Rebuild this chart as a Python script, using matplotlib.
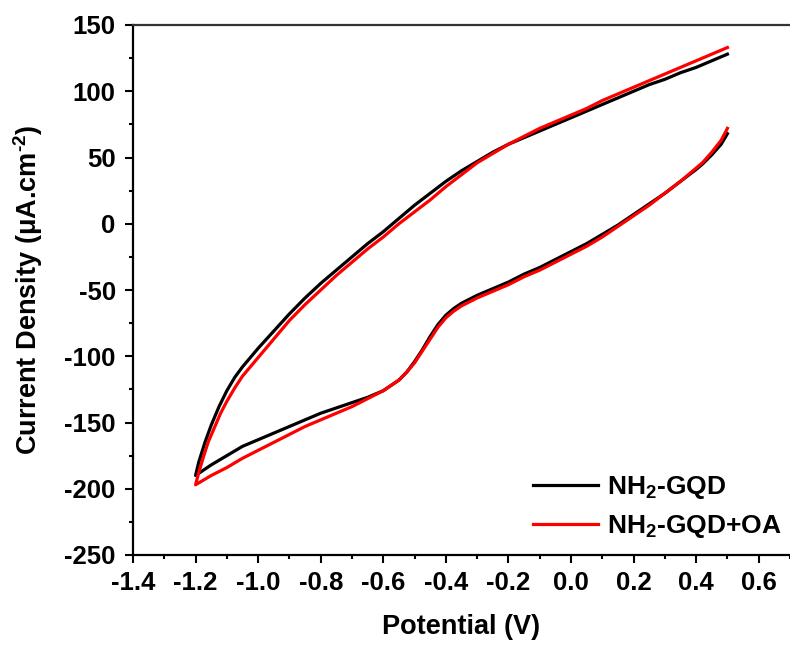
import matplotlib
matplotlib.use("Agg")
import matplotlib.pyplot as plt
from matplotlib.ticker import MultipleLocator

plt.rcParams['font.family'] = ['Liberation Sans', 'DejaVu Sans']
plt.rcParams['font.weight'] = 'bold'
plt.rcParams['mathtext.fontset'] = 'custom'
plt.rcParams['mathtext.rm'] = 'Liberation Sans:bold'
plt.rcParams['mathtext.bf'] = 'Liberation Sans:bold'
plt.rcParams['mathtext.it'] = 'Liberation Sans:bold:italic'
plt.rcParams['mathtext.default'] = 'bf'

# Cyclic voltammograms: forward (anodic) sweep and reverse sweep
v_fwd_black = [-1.20, -1.19, -1.17, -1.15, -1.125, -1.10, -1.075, -1.05, -1.025, -1.00,
               -0.95, -0.90, -0.85, -0.80, -0.75, -0.70, -0.65, -0.60, -0.55, -0.50,
               -0.45, -0.40, -0.35, -0.30, -0.25, -0.20, -0.15, -0.10, -0.05, 0.00,
               0.05, 0.10, 0.15, 0.20, 0.25, 0.30, 0.35, 0.40, 0.45, 0.50]
i_fwd_black = [-190, -180, -165, -152, -138, -126, -116, -108, -101, -94,
               -81, -68, -56, -45, -35, -25, -15, -6, 4, 14,
               23, 32, 40, 47, 54, 60, 65, 70, 75, 80,
               85, 90, 95, 100, 105, 109, 114, 118, 123, 128]

v_rev_black = [0.50, 0.48, 0.45, 0.42, 0.40, 0.35, 0.30, 0.25, 0.20, 0.15,
               0.10, 0.05, 0.00, -0.05, -0.10, -0.15, -0.20, -0.25, -0.30, -0.35,
               -0.375, -0.40, -0.425, -0.45, -0.475, -0.50, -0.525, -0.55, -0.575, -0.60,
               -0.65, -0.70, -0.75, -0.80, -0.85, -0.90, -0.95, -1.00, -1.05, -1.10,
               -1.15, -1.20]
i_rev_black = [68, 60, 52, 45, 41, 32, 23, 15, 7, -1,
               -8, -15, -21, -27, -33, -38, -44, -49, -54, -60,
               -64, -69, -76, -85, -95, -104, -112, -118, -122, -126,
               -131, -135, -139, -143, -148, -153, -158, -163, -168, -175,
               -182, -190]

v_fwd_red = [-1.20, -1.19, -1.175, -1.16, -1.14, -1.12, -1.10, -1.075, -1.05, -1.025,
             -1.00, -0.95, -0.90, -0.85, -0.80, -0.75, -0.70, -0.65, -0.60, -0.55,
             -0.50, -0.45, -0.40, -0.35, -0.30, -0.25, -0.20, -0.15, -0.10, -0.05,
             0.00, 0.05, 0.10, 0.15, 0.20, 0.25, 0.30, 0.35, 0.40, 0.45,
             0.50]
i_fwd_red = [-197, -188, -176, -165, -154, -143, -134, -124, -115, -108,
             -101, -87, -73, -61, -50, -39, -29, -19, -10, 0,
             9, 18, 28, 37, 46, 53, 60, 66, 72, 77,
             82, 87, 93, 98, 103, 108, 113, 118, 123, 128,
             133]

v_rev_red = [0.50, 0.48, 0.45, 0.42, 0.40, 0.35, 0.30, 0.25, 0.20, 0.15,
             0.10, 0.05, 0.00, -0.05, -0.10, -0.15, -0.20, -0.25, -0.30, -0.35,
             -0.375, -0.40, -0.425, -0.45, -0.475, -0.50, -0.525, -0.55, -0.575, -0.60,
             -0.65, -0.70, -0.75, -0.80, -0.85, -0.90, -0.95, -1.00, -1.05, -1.10,
             -1.15, -1.20]
i_rev_red = [72, 63, 54, 46, 42, 32, 23, 14, 6, -2,
             -10, -17, -23, -29, -35, -40, -46, -51, -56, -62,
             -66, -71, -78, -87, -96, -105, -112, -118, -122, -126,
             -132, -138, -143, -148, -153, -159, -165, -171, -177, -184,
             -190, -197]

labels = ['NH$_2$-GQD', 'NH$_2$-GQD+OA']
colors = ['#000000', '#ff0000']
x_ticks = [-1.4, -1.2, -1.0, -0.8, -0.6, -0.4, -0.2, 0.0, 0.2, 0.4, 0.6]
x_ticklabels = ['-1.4', '-1.2', '-1.0', '-0.8', '-0.6', '-0.4', '-0.2',
                '0.0', '0.2', '0.4', '0.6']
y_ticks = [-250, -200, -150, -100, -50, 0, 50, 100, 150]
y_ticklabels = ['-250', '-200', '-150', '-100', '-50', '0', '50', '100', '150']

fig = plt.figure(figsize=(7.9, 6.49), dpi=100)
ax = fig.add_axes([133 / 790, 94 / 649, 1 - 133 / 790, 530 / 649])

# reverse sweep first, then forward sweep: the loop closes at -1.2 V only
ax.plot(v_rev_black + v_fwd_black, i_rev_black + i_fwd_black,
        color=colors[0], lw=2.3, label=labels[0])
ax.plot(v_rev_red + v_fwd_red, i_rev_red + i_fwd_red,
        color=colors[1], lw=2.3, label=labels[1])

ax.set_xlim(-1.4, 0.7)
ax.set_ylim(-250, 150)
ax.set_xticks(x_ticks)
ax.set_xticklabels(x_ticklabels)
ax.set_yticks(y_ticks)
ax.set_yticklabels(y_ticklabels)
ax.xaxis.set_minor_locator(MultipleLocator(0.1))
ax.yaxis.set_minor_locator(MultipleLocator(25))

ax.tick_params(which='major', direction='out', length=5.5, width=1.5,
               labelsize=18.5)
ax.tick_params(axis='x', which='major', pad=6)
ax.tick_params(axis='y', which='major', pad=7)
ax.tick_params(which='minor', direction='out', length=3, width=1.5)
ax.tick_params(top=False, right=False, which='both')

for side in ['left', 'bottom', 'top']:
    ax.spines[side].set_linewidth(1.6)
ax.spines['top'].set_color('#333333')
ax.spines['right'].set_visible(False)

ax.set_xlabel('Potential (V)', fontsize=19.5, fontweight='bold', labelpad=14)
ax.set_ylabel(r'Current Density (μA.cm$^{\text{-}2}$)', fontsize=19.5,
              fontweight='bold', labelpad=14)

ax.legend(loc='upper left', bbox_to_anchor=(533 / 790, 1 - 474 / 649),
          bbox_transform=fig.transFigure, frameon=False, borderpad=0,
          borderaxespad=0, fontsize=19, handlelength=2.45, handletextpad=0.35,
          labelspacing=0.45)

fig.savefig('out.png', dpi=100)
